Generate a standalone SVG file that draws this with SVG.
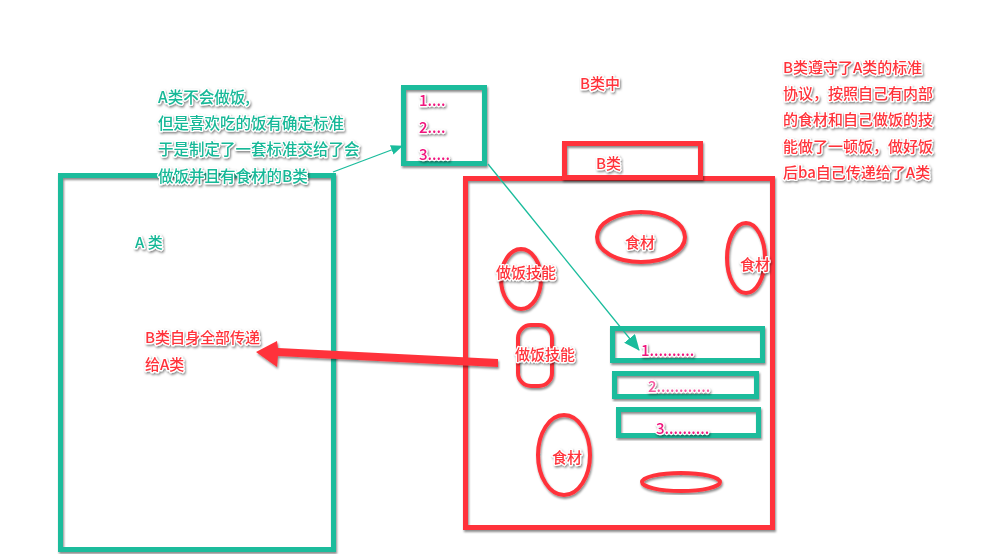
<svg xmlns="http://www.w3.org/2000/svg" width="996" height="554" viewBox="0 0 996 554">
  <defs>
    <filter id="shadow" x="-20%" y="-20%" width="140%" height="140%">
      <feDropShadow dx="1" dy="2" stdDeviation="1.2" flood-color="#000" flood-opacity="0.45"/>
    </filter>
    <filter id="tshadow" x="-10%" y="-30%" width="120%" height="160%">
      <feDropShadow dx="1" dy="1.5" stdDeviation="0.8" flood-color="#000" flood-opacity="0.5"/>
    </filter>
    <marker id="tealHead" viewBox="0 0 12 10" refX="11" refY="5" markerWidth="12" markerHeight="10" markerUnits="userSpaceOnUse" orient="auto">
      <path d="M0,0 L12,5 L0,10 Z" fill="#1abc9c"/>
    </marker>
    <marker id="tealHeadBig" viewBox="0 0 16 14" refX="15" refY="7" markerWidth="16" markerHeight="14" markerUnits="userSpaceOnUse" orient="auto">
      <path d="M0,0 L16,7 L0,14 Z" fill="#1abc9c"/>
    </marker>
  </defs>
  <style>
    text { font-family: "Noto Sans CJK SC", "Liberation Sans", sans-serif; font-size: 15px; font-weight: 500; stroke: #ffffff; stroke-width: 2.5px; paint-order: stroke; stroke-linejoin: round; filter: url(#tshadow); }
    .teal { fill: #17b897; }
    .red { fill: #ff333a; }
    .pink { fill: #f0127c; }
    .lpink { fill: #f55aa0; }
    .note { font-size: 15.5px; }
    .tbox { fill: none; stroke: #1abc9c; stroke-width: 5; filter: url(#shadow); }
    .rbox { fill: none; stroke: #ff333a; stroke-width: 5; filter: url(#shadow); }
    .rthin { fill: none; stroke: #ff333a; stroke-width: 4; filter: url(#shadow); }
  </style>

  <rect width="996" height="554" fill="#ffffff"/>

  <!-- Class A -->
  <g id="classA">
    <rect class="tbox" x="60.5" y="175.5" width="273" height="374"/>
    <text class="teal" x="135" y="248">A 类</text>
  </g>

  <!-- note about class A -->
  <g id="noteA">
    <text class="teal note" x="158" y="103">A类不会做饭,</text>
    <text class="teal note" x="158" y="129">但是喜欢吃的饭有确定标准</text>
    <text class="teal note" x="158" y="155">于是制定了一套标准交给了会</text>
    <text class="teal note" x="158" y="182">做饭并且有食材的B类</text>
  </g>

  <!-- standard protocol -->
  <g id="standard">
    <rect class="tbox" x="403.5" y="87.5" width="81" height="76"/>
    <text class="pink" x="419" y="106">1....</text>
    <text class="pink" x="419" y="133">2....</text>
    <text class="pink" x="419" y="160">3.....</text>
  </g>

  <g id="labelBmid">
    <text class="red" x="580" y="89">B类中</text>
  </g>

  <!-- note about class B -->
  <g id="noteB">
    <text class="red" x="783" y="73">B类遵守了A类的标准</text>
    <text class="red" x="783" y="99">协议，按照自己有内部</text>
    <text class="red" x="783" y="125">的食材和自己做饭的技</text>
    <text class="red" x="783" y="152">能做了一顿饭，做好饭</text>
    <text class="red" x="783" y="178">后ba自己传递给了A类</text>
  </g>

  <!-- Class B -->
  <g id="classB">
    <rect class="rbox" x="465.5" y="178.5" width="307" height="349"/>
    <rect class="rbox" x="564.5" y="143.5" width="136" height="34"/>
    <text class="red" x="596" y="169">B类</text>
  </g>

  <g id="ingredient1">
    <ellipse class="rthin" cx="641" cy="237" rx="44" ry="25"/>
    <text class="red" x="625" y="248">食材</text>
  </g>
  <g id="ingredient2">
    <ellipse class="rthin" cx="746" cy="258" rx="19" ry="35"/>
    <text class="red" x="740" y="270">食材</text>
  </g>
  <g id="skill1">
    <ellipse class="rthin" cx="521" cy="279" rx="20" ry="30"/>
    <text class="red" x="496" y="278">做饭技能</text>
  </g>
  <g id="skill2">
    <rect class="rthin" x="518" y="325" width="34" height="61" rx="13"/>
    <text class="red" x="515" y="360">做饭技能</text>
  </g>
  <g id="ingredient3">
    <ellipse class="rthin" cx="564" cy="455" rx="26" ry="40"/>
    <text class="red" x="552" y="463">食材</text>
  </g>
  <g id="plate">
    <ellipse class="rthin" cx="681" cy="482" rx="39" ry="9"/>
  </g>

  <g id="step1">
    <rect class="tbox" x="612.5" y="328.5" width="150" height="32"/>
    <text class="pink" x="641" y="356">1..........</text>
  </g>
  <g id="step2">
    <rect class="tbox" x="614.5" y="373.5" width="142" height="23"/>
    <text class="lpink" x="648" y="392">2............</text>
  </g>
  <g id="step3">
    <rect class="tbox" x="618.5" y="409.5" width="140" height="26"/>
    <text class="pink" x="656" y="434">3..........</text>
  </g>

  <g id="labelTransfer">
    <text class="red" x="145" y="343">B类自身全部传递</text>
    <text class="red" x="145" y="370">给A类</text>
  </g>

  <!-- connectors -->
  <g id="connectors">
    <line x1="333" y1="172" x2="402" y2="146" stroke="#1abc9c" stroke-width="1.3" marker-end="url(#tealHead)"/>
    <line x1="488" y1="164" x2="639" y2="350" stroke="#1abc9c" stroke-width="1.3" marker-end="url(#tealHeadBig)"/>
    <line x1="500" y1="352" x2="500" y2="427" stroke="#ff333a" stroke-width="5" stroke-linecap="round" filter="url(#shadow)"/>
    <path d="M498,367 L278,356 L277,367 L256,352 L277,341 L278,348 L498,359 Z" fill="#ff333a" filter="url(#shadow)"/>
  </g>
</svg>
